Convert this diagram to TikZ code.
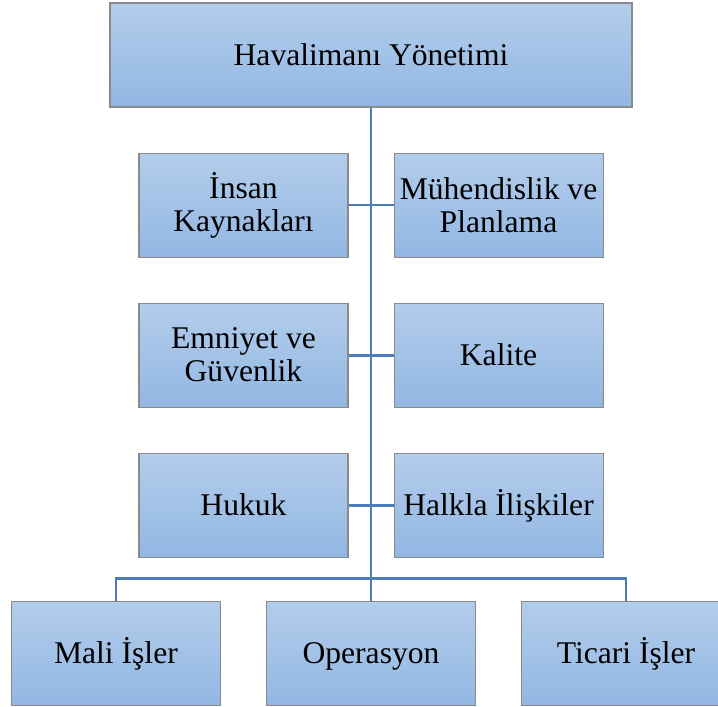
\documentclass[tikz,border=0pt]{standalone}
\usepackage{fontspec}
\setmainfont{Liberation Serif}
\usetikzlibrary{positioning}
\definecolor{boxtop}{HTML}{B3CDEB}
\definecolor{boxbot}{HTML}{92B7E3}
\definecolor{boxline}{HTML}{8A8A8A}
\definecolor{linkblue}{HTML}{4A7EBB}

\begin{document}
\begin{tikzpicture}[
  x=0.75pt, y=0.75pt,
  node distance=33.75pt,
  unit/.style={draw=boxline, line width=0.8pt, top color=boxtop, bottom color=boxbot, align=center, minimum width=156.75pt, minimum height=78pt, inner sep=2pt, font=\fontsize{23.7}{24.75}\selectfont},
  single/.style={unit, text height=21pt, text depth=5pt},
  head/.style={single, minimum width=391.5pt},
  link/.style={draw=linkblue, line width=2.1pt}
]
\clip (0,0) rectangle (718,-707);
\node[head] (top) at (371,-55) {Havalimanı Yönetimi};
\node[unit, below left=33.75pt and 16.875pt of top.south] (ins) {İnsan\\Kaynakları};
\node[unit, below right=33.75pt and 16.875pt of top.south] (muh) {Mühendislik ve\\Planlama};
\node[unit, below=of ins] (emn) {Emniyet ve\\Güvenlik};
\node[single, below=of muh] (kal) {Kalite};
\node[single, below=of emn] (huk) {Hukuk};
\node[single, below=of kal] (hal) {Halkla İlişkiler};
\coordinate (base) at (top.south |- huk.south);
\node[single, below=32.25pt of base] (ops) {Operasyon};
\node[single, left=of ops] (mali) {Mali İşler};
\node[single, right=of ops] (tic) {Ticari İşler};

\draw[link] (top.south) -- (ops.north);
\draw[link] (ins) -- (muh);
\draw[link] (emn) -- (kal);
\draw[link] (huk) -- (hal);
\draw[link] (mali.north) -- ++(0,22) -| (tic.north);
\end{tikzpicture}
\end{document}
